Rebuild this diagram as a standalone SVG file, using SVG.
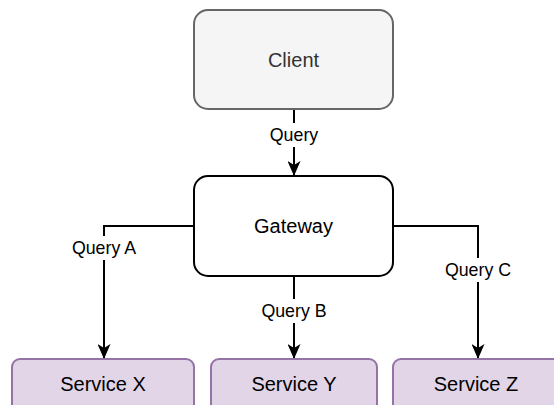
<svg xmlns="http://www.w3.org/2000/svg" width="554" height="405" viewBox="0 0 554 405">
  <style>
    .node text { font-family: "Liberation Sans", Arial, sans-serif; font-size: 20px; text-anchor: middle; fill: #000; }
    .client rect { fill: #f5f5f5; stroke: #666666; stroke-width: 2; }
    .client text { fill: #333333; }
    .gateway rect { fill: #ffffff; stroke: #000000; stroke-width: 2; }
    .service rect { fill: #e1d5e7; stroke: #9673a6; stroke-width: 2; }
    .edge { fill: none; stroke: #000; stroke-width: 2; marker-end: url(#arrow); }
    .lbl rect { fill: #ffffff; }
    .lbl text { font-family: "Liberation Sans", Arial, sans-serif; font-size: 17.8px; text-anchor: middle; fill: #000; }
  </style>
  <defs>
    <marker id="arrow" markerUnits="userSpaceOnUse" viewBox="0 0 15 13" markerWidth="15" markerHeight="13" refX="15" refY="6.5" orient="auto">
      <path d="M0,0 L15,6.5 L0,13 L4,6.5 z" fill="#000"/>
    </marker>
  </defs>

  <rect width="554" height="405" fill="#ffffff"/>

  <g id="connectors">
    <path class="edge" d="M294,109 V176"/>
    <path class="edge" d="M194,226 H104 V359"/>
    <path class="edge" d="M294,276 V359"/>
    <path class="edge" d="M393,226 H478 V359"/>
    <g class="lbl">
      <rect x="269" y="123" width="50" height="24"/>
      <text x="294" y="141">Query</text>
      <rect x="68" y="236" width="72" height="24"/>
      <text x="104" y="254">Query A</text>
      <rect x="258" y="299" width="72" height="24"/>
      <text x="294" y="317">Query B</text>
      <rect x="442" y="258" width="72" height="24"/>
      <text x="478" y="276">Query C</text>
    </g>
  </g>

  <g id="client" class="node client">
    <rect x="194" y="10" width="199" height="99" rx="14"/>
    <text x="293.5" y="67">Client</text>
  </g>

  <g id="gateway" class="node gateway">
    <rect x="194" y="176" width="199" height="100" rx="14"/>
    <text x="293.5" y="233">Gateway</text>
  </g>

  <g id="service-x" class="node service">
    <rect x="12" y="359" width="182" height="60" rx="8"/>
    <text x="103" y="391">Service X</text>
  </g>

  <g id="service-y" class="node service">
    <rect x="211" y="359" width="166" height="60" rx="8"/>
    <text x="294" y="391">Service Y</text>
  </g>

  <g id="service-z" class="node service">
    <rect x="393" y="359" width="182" height="60" rx="8"/>
    <text x="476" y="391">Service Z</text>
  </g>
</svg>
